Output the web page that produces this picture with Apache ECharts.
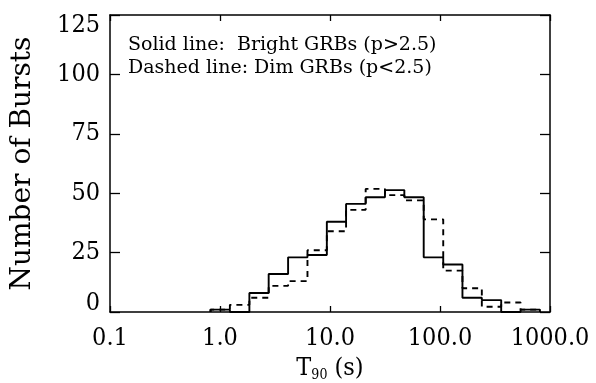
<!DOCTYPE html>
<html><head><meta charset="utf-8">
<script src="https://cdn.jsdelivr.net/npm/echarts@6/dist/echarts.min.js"></script>
<style>html,body{margin:0;padding:0;background:#fff}#c{width:596px;height:383px}</style>
</head><body><div id="c"></div>
<script>
// Bin edges of T90 (s), log-spaced
const binEdges = [0.82, 1.23, 1.85, 2.77, 4.16, 6.24, 9.36, 14.0, 21.1, 31.6, 47.4, 71.1, 107, 160, 240, 360, 540, 810];
// Counts per bin
const brightCounts = [1, 0, 8, 16, 23, 24, 38, 45.5, 48.3, 51.3, 48.3, 23, 20, 6, 5, 0, 1];
const dimCounts    = [1, 3, 6, 11, 13, 26, 34, 43, 51.8, 49.2, 47, 39, 17.4, 10, 2.2, 4, 1];
const yTicks = [0, 25, 50, 75, 100, 125];
const xTickLabels = {0.1: '0.1', 1: '1.0', 10: '10.0', 100: '100.0', 1000: '1000.0'};
const legendLines = ['Solid line:  Bright GRBs (p>2.5)', 'Dashed line: Dim GRBs (p<2.5)'];

function histData(edges, counts) {
  const d = [[edges[0], 0]];
  counts.forEach((c, i) => d.push([edges[i], c]));
  d.push([edges[counts.length], 0]);
  return d;
}
const FONT = '"DejaVu Serif Condensed", "DejaVu Serif", serif';
const chart = echarts.init(document.getElementById('c'));
const axisLine = {show: true, onZero: false, lineStyle: {color: '#000', width: 1.5}};
const tickStyle = {color: '#000', width: 1.3};
chart.setOption({
  animation: false,
  grid: {left: 110, top: 15, right: 46, bottom: 71, containLabel: false, outerBoundsMode: 'none'},
  xAxis: [{
    type: 'log', logBase: 10, min: 0.1, max: 1000,
    axisLine: axisLine,
    axisTick: {show: true, inside: true, length: 6, lineStyle: tickStyle},
    minorTick: {show: false},
    splitLine: {show: false},
    axisLabel: {color: '#000', fontFamily: FONT, fontSize: 25, margin: 14,
      formatter: v => xTickLabels[+v.toPrecision(3)] ?? ''},
    name: 'T{s|90} (s)', nameLocation: 'middle', nameGap: 37,
    nameTextStyle: {color: '#000', fontFamily: FONT, fontSize: 25,
      rich: {s: {fontFamily: FONT, fontSize: 14, verticalAlign: 'bottom', padding: [14, 0, 0, 0]}}}
  }, {
    type: 'log', logBase: 10, min: 0.1, max: 1000, position: 'top',
    axisLine: axisLine,
    axisTick: {show: true, inside: true, length: 6, lineStyle: tickStyle},
    axisLabel: {show: false}, splitLine: {show: false}
  }],
  yAxis: [{
    type: 'value', min: 0, max: 125, interval: 25,
    axisLine: axisLine,
    axisTick: {show: true, inside: true, length: 10, lineStyle: tickStyle},
    splitLine: {show: false},
    axisLabel: {color: '#000', fontFamily: FONT, fontSize: 25, margin: 10,
      formatter: v => {
        if (!yTicks.includes(v)) return '';
        if (v === 125) return '{hi|' + v + '}';
        if (v === 0) return '{lo|' + v + '}';
        return String(v);
      },
      rich: {
        hi: {fontFamily: FONT, fontSize: 25, color: '#000', padding: [20, 0, 0, 0]},
        lo: {fontFamily: FONT, fontSize: 25, color: '#000', padding: [0, 0, 18, 0]}
      }},
    name: 'Number of Bursts', nameLocation: 'middle', nameGap: 73, nameRotate: 90,
    nameTextStyle: {color: '#000', fontFamily: '"DejaVu Serif", serif', fontSize: 28}
  }, {
    type: 'value', min: 0, max: 125, interval: 25, position: 'right',
    axisLine: axisLine,
    axisTick: {show: true, inside: true, length: 10, lineStyle: tickStyle},
    axisLabel: {show: false}, splitLine: {show: false}
  }],
  series: [{
    type: 'line', step: 'end', symbol: 'none', xAxisIndex: 0, yAxisIndex: 0,
    data: histData(binEdges, brightCounts),
    lineStyle: {color: '#000', width: 1.9, type: 'solid'}
  }, {
    type: 'line', step: 'end', symbol: 'none', xAxisIndex: 0, yAxisIndex: 0,
    data: histData(binEdges, dimCounts),
    lineStyle: {color: '#000', width: 1.9, type: [6, 5]}
  }],
  graphic: [
    {type: 'text', left: 128, top: 36, style: {text: legendLines[0], fill: '#000', font: '19px "DejaVu Serif"'}},
    {type: 'text', left: 128, top: 59, style: {text: legendLines[1], fill: '#000', font: '19px "DejaVu Serif"'}}
  ]
});
</script></body></html>
